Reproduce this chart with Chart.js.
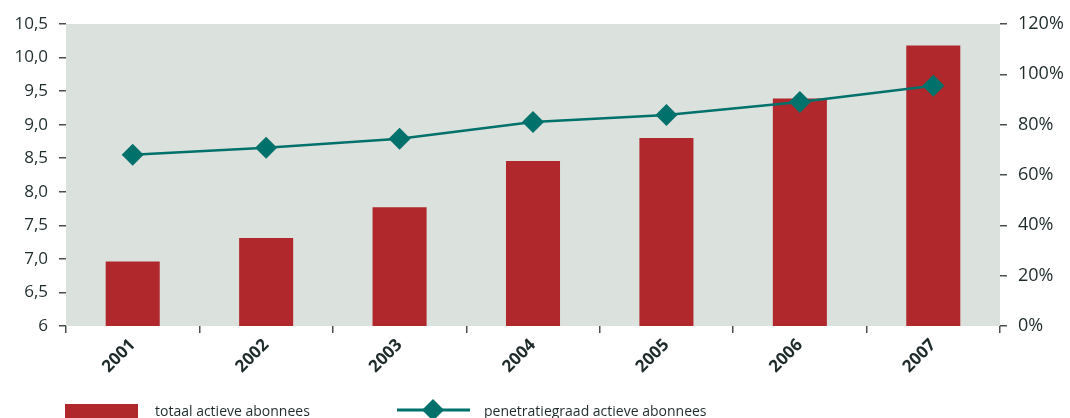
<!DOCTYPE html>
<html>
<head>
<meta charset="utf-8">
<script src="https://cdn.jsdelivr.net/npm/chart.js@4.4.0/dist/chart.umd.min.js"></script>
<style>
  html, body { margin: 0; padding: 0; background: #ffffff; }
  #wrap { width: 1070px; height: 418px; position: relative; }
</style>
</head>
<body>
<div id="wrap"><canvas id="AbonneesChart" width="1070" height="418"></canvas></div>
<script>
(function () {
  "use strict";

  // data
  const years = ['2001', '2002', '2003', '2004', '2005', '2006', '2007'];
  const totaalAbonnees = [6.96, 7.31, 7.77, 8.46, 8.80, 9.39, 10.18];
  const penetratiegraad = [68, 70.8, 74.4, 81.1, 83.8, 89, 95.5];
  const leftTicks = ['6', '6,5', '7,0', '7,5', '8,0', '8,5', '9,0', '9,5', '10,0', '10,5'];
  const rightTicks = ['0%', '20%', '40%', '60%', '80%', '100%', '120%'];

  // colours
  const bar_red    = '#b0282c';
  const line_teal  = '#00716b';
  const plot_bg    = '#dbe1dd';
  const text_dark  = '#1f2b2b';
  const tick_gray  = '#4a4f4f';
  const font_fam   = "'Open Sans', 'DejaVu Sans', sans-serif";

  // plot area background
  const plotBackground = {
    id: 'plotBackground',
    beforeDraw(chart) {
      const { ctx, chartArea: a } = chart;
      ctx.save();
      ctx.fillStyle = plot_bg;
      ctx.fillRect(a.left, a.top, a.right - a.left, a.bottom - a.top);
      ctx.restore();
    }
  };

  // legend at the bottom
  const bottomLegend = {
    id: 'bottomLegend',
    afterDraw(chart) {
      const ctx = chart.ctx;
      ctx.save();
      ctx.fillStyle = bar_red;
      ctx.fillRect(65, 404, 73, 16);

      ctx.strokeStyle = line_teal;
      ctx.lineWidth = 3;
      ctx.beginPath();
      ctx.moveTo(397, 410);
      ctx.lineTo(470, 410);
      ctx.stroke();
      ctx.fillStyle = line_teal;
      ctx.beginPath();
      ctx.moveTo(433, 399);
      ctx.lineTo(444, 410);
      ctx.lineTo(433, 421);
      ctx.lineTo(422, 410);
      ctx.closePath();
      ctx.fill();

      ctx.fillStyle = text_dark;
      ctx.font = '14px ' + font_fam;
      ctx.textBaseline = 'alphabetic';
      ctx.fillText('totaal actieve abonnees', 155, 416);
      ctx.fillText('penetratiegraad actieve abonnees', 484, 416);
      ctx.restore();
    }
  };

  const ctx = document.getElementById('AbonneesChart').getContext('2d');
  new Chart(ctx, {
    data: {
      labels: years,
      datasets: [{
        type: 'line',
        label: 'penetratiegraad actieve abonnees',
        data: penetratiegraad,
        yAxisID: 'yRight',
        borderColor: line_teal,
        backgroundColor: line_teal,
        borderWidth: 2.5,
        pointStyle: 'rectRot',
        pointRadius: 11,
        pointBorderWidth: 0,
        tension: 0,
        order: 0
      },
      {
        type: 'bar',
        label: 'totaal actieve abonnees',
        data: totaalAbonnees,
        yAxisID: 'yLeft',
        backgroundColor: bar_red,
        borderWidth: 0,
        barPercentage: 0.405,
        categoryPercentage: 1,
        order: 1
      }]
    },
    options: {
      responsive: false,
      animation: false,
      layout: { padding: { top: 24, bottom: 38, left: 0, right: 0 } },
      scales: {
        x: {
          offset: true,
          border: { display: false },
          grid: {
            display: true,
            offset: true,
            drawOnChartArea: false,
            drawTicks: true,
            tickLength: 7,
            color: tick_gray,
            lineWidth: 1.5
          },
          ticks: {
            color: text_dark,
            font: { family: font_fam, size: 17, weight: 'bold' },
            minRotation: 45,
            maxRotation: 45,
            padding: 2
          },
          afterFit(scale) { scale.height = 54; }
        },
        yLeft: {
          position: 'left',
          min: 6,
          max: 10.5,
          border: { display: false },
          grid: {
            drawOnChartArea: false,
            drawTicks: true,
            tickLength: 7,
            color: tick_gray,
            lineWidth: 1.5
          },
          ticks: {
            stepSize: 0.5,
            color: text_dark,
            font: { family: font_fam, size: 17 },
            padding: 11,
            callback: (v, i) => leftTicks[i]
          },
          afterFit(scale) { scale.width = 66; }
        },
        yRight: {
          position: 'right',
          min: 0,
          max: 120,
          border: { display: false },
          grid: {
            drawOnChartArea: false,
            drawTicks: true,
            tickLength: 7,
            color: tick_gray,
            lineWidth: 1.5
          },
          ticks: {
            stepSize: 20,
            color: text_dark,
            font: { family: font_fam, size: 18 },
            padding: 11,
            callback: (v, i) => rightTicks[i]
          },
          afterFit(scale) { scale.width = 70; }
        }
      },
      plugins: {
        legend: { display: false },
        tooltip: { enabled: false }
      }
    },
    plugins: [plotBackground, bottomLegend]
  });
})();
</script>
</body>
</html>
